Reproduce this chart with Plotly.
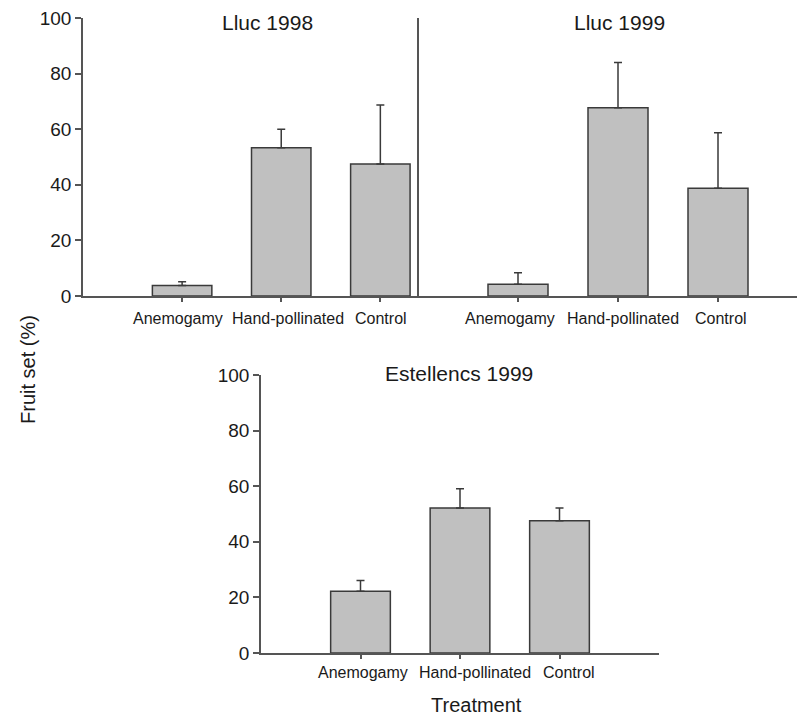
import plotly.graph_objects as go

categories = ["Anemogamy", "Hand-pollinated", "Control"]
panel_titles = ["Lluc 1998", "Lluc 1999", "Estellencs 1999"]
lluc1998_mean = [3.8, 53.3, 47.5]
lluc1998_se = [1.3, 6.7, 21.2]
lluc1999_mean = [4.2, 67.7, 38.8]
lluc1999_se = [4.2, 16.3, 19.9]
estel1999_mean = [22.2, 52.2, 47.6]
estel1999_se = [3.9, 6.9, 4.6]
y_ticks = [0, 20, 40, 60, 80, 100]

W, H = 805, 717
OFF_X, OFF_Y = 7, 8  # page body margin offset
FONT = "Liberation Sans, Arial, Helvetica, sans-serif"
TXT = "#1a1a1a"
BAR_FILL = "#c0c0c0"
EDGE = "#3a3a3a"
AXIS = "#555555"

def px_x(x):
    return (x - OFF_X) / W

def px_y(y):
    return 1 - (y - OFF_Y) / H

fig = go.Figure()
series = [(lluc1998_mean, lluc1998_se), (lluc1999_mean, lluc1999_se), (estel1999_mean, estel1999_se)]
for i, (m, s) in enumerate(series):
    suffix = "" if i == 0 else str(i + 1)
    fig.add_trace(go.Bar(
        x=categories, y=m,
        xaxis="x" + suffix, yaxis="y" + suffix,
        width=0.6,
        marker=dict(color=BAR_FILL, line=dict(color=EDGE, width=1.5)),
        error_y=dict(type="data", array=s, arrayminus=[0] * len(s), symmetric=False,
                     width=4, thickness=1.5, color=EDGE),
        showlegend=False,
    ))

xcommon = dict(type="category", showline=True, linecolor=AXIS, linewidth=1.5,
               ticks="outside", ticklen=4, tickcolor=AXIS, tickwidth=1.5,
               showticklabels=False,
               showgrid=False, zeroline=False, fixedrange=True, automargin=False)
ycommon = dict(range=[0, 100], showline=True, linecolor=AXIS, linewidth=1.5,
               tickvals=y_ticks, showgrid=False, zeroline=False, automargin=False,
               ticklabeloverflow="allow",
               tickfont=dict(family=FONT, size=19, color=TXT), fixedrange=True)

fig.update_layout(
    width=W, height=H,
    autosize=False,
    margin=dict(l=0, r=0, t=0, b=0, pad=0, autoexpand=False),
    showlegend=False,
    paper_bgcolor="white", plot_bgcolor="rgba(0,0,0,0)",
    bargap=0.4,
    xaxis=dict(xcommon, domain=[px_x(82), px_x(418)], range=[-1.0, 2.39], anchor="y"),
    yaxis=dict(ycommon, domain=[px_y(296), px_y(18)], anchor="x",
               ticks="outside", ticklen=6, tickcolor=AXIS, tickwidth=1.5),
    xaxis2=dict(xcommon, domain=[px_x(418), 1.0], range=[-0.99, 2.95], anchor="y2"),
    yaxis2=dict(ycommon, domain=[px_y(296), px_y(18)], anchor="x2",
                showticklabels=False, ticks=""),
    xaxis3=dict(xcommon, domain=[px_x(260), px_x(658)], range=[-1.0, 3.0], anchor="y3"),
    yaxis3=dict(ycommon, domain=[px_y(653), px_y(375)], anchor="x3",
                ticks="outside", ticklen=6, tickcolor=AXIS, tickwidth=1.5),
)

# category labels (placed under each bar, with the small offsets seen in the original)
label_rows = [("x", 318, [-4, 7, 1]), ("x2", 318, [-8, 5, 3]), ("x3", 672, [2.5, 15, 9.5])]
for xref, ypix, shifts in label_rows:
    for cat, sh in zip(categories, shifts):
        fig.add_annotation(text=cat, x=cat, xref=xref, y=px_y(ypix), yref="paper",
                           xshift=sh, showarrow=False, xanchor="center", yanchor="middle",
                           font=dict(family=FONT, size=16, color=TXT))

title_pos = [(266, 22), (618, 22), (458, 373)]
for t, (x, y) in zip(panel_titles, title_pos):
    fig.add_annotation(text=t, x=px_x(x), y=px_y(y), xref="paper", yref="paper",
                       showarrow=False, xanchor="center", yanchor="middle",
                       font=dict(family=FONT, size=21, color=TXT))

fig.add_annotation(text="Fruit set (%)", x=px_x(27), y=px_y(370), xref="paper", yref="paper",
                   showarrow=False, textangle=-90, xanchor="center", yanchor="middle",
                   font=dict(family=FONT, size=20, color=TXT))
fig.add_annotation(text="Treatment", x=px_x(475), y=px_y(705), xref="paper", yref="paper",
                   showarrow=False, xanchor="center", yanchor="middle",
                   font=dict(family=FONT, size=20, color=TXT))

fig.write_html("out.html")
